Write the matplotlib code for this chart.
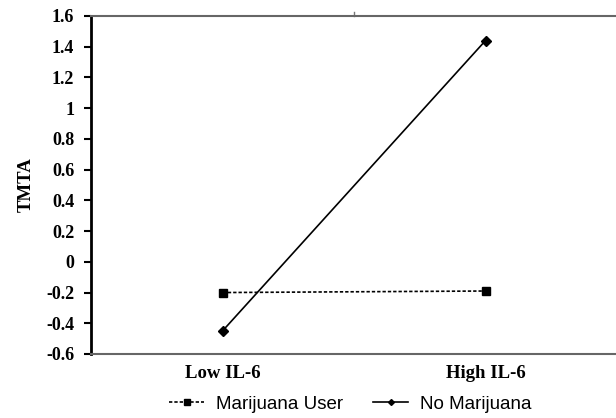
import matplotlib.pyplot as plt
from matplotlib.lines import Line2D

# interaction plot: TMTA by IL-6 level and marijuana use
groups = ['Low IL-6', 'High IL-6']
marijuana_user = [-0.20, -0.19]
no_marijuana = [-0.45, 1.44]
y_ticks = [-0.6, -0.4, -0.2, 0, 0.2, 0.4, 0.6, 0.8, 1, 1.2, 1.4, 1.6]

serif = {'family': 'Liberation Serif', 'weight': 'bold'}

fig = plt.figure(figsize=(6.16, 4.18), dpi=100)
ax = fig.add_axes([91 / 616, 64 / 418, 526 / 616, 338 / 418])

xpos = [0.5, 1.5]
ax.plot(xpos, marijuana_user, color='black', linestyle=(0, (2, 1.2)), linewidth=1.2,
        marker='s', markersize=6, label='Marijuana User')
ax.plot(xpos, no_marijuana, color='black', linestyle='-', linewidth=1.2,
        marker='D', markersize=5, label='No Marijuana')

ax.set_xlim(0, 2)
ax.set_ylim(-0.6, 1.6)
ax.set_yticks(y_ticks)
ax.set_yticklabels(['%g' % v for v in y_ticks], fontdict=serif, fontsize=13)
ax.tick_params(axis='y', direction='out', length=5, width=1.5, pad=7)

# category labels below, one tick on the top border between them
ax.set_xticks([])
for x, g in zip(xpos, groups):
    ax.text(x, -0.6 - 0.07, g, ha='center', va='top', fontsize=13.5, **serif)
ax.plot([1, 1], [1.6, 1.625], color='#777777', linewidth=1, clip_on=False)

ax.spines['left'].set_linewidth(2)
ax.spines['left'].set_color('black')
for s in ['top', 'bottom']:
    ax.spines[s].set_color('#666666')
    ax.spines[s].set_linewidth(1.5)
ax.spines['right'].set_color('#dddddd')
ax.spines['right'].set_linewidth(1)

ax.set_ylabel('TMTA', fontdict=serif, fontsize=13.5, labelpad=8)

handles = [
    Line2D([], [], color='black', linestyle=(0, (2, 1.2)), linewidth=1.2, marker='s', markersize=5),
    Line2D([], [], color='black', linestyle='-', linewidth=1.2, marker='D', markersize=3),
]
fig.legend(handles, ['Marijuana User', 'No Marijuana'], loc='center', bbox_to_anchor=(350 / 616, 1 - 404 / 418),
           ncol=2, frameon=False, prop={'family': 'Liberation Sans', 'size': 13.5},
           handlelength=1.9, columnspacing=1.6, handletextpad=0.6)

fig.savefig('out.png', dpi=100)
